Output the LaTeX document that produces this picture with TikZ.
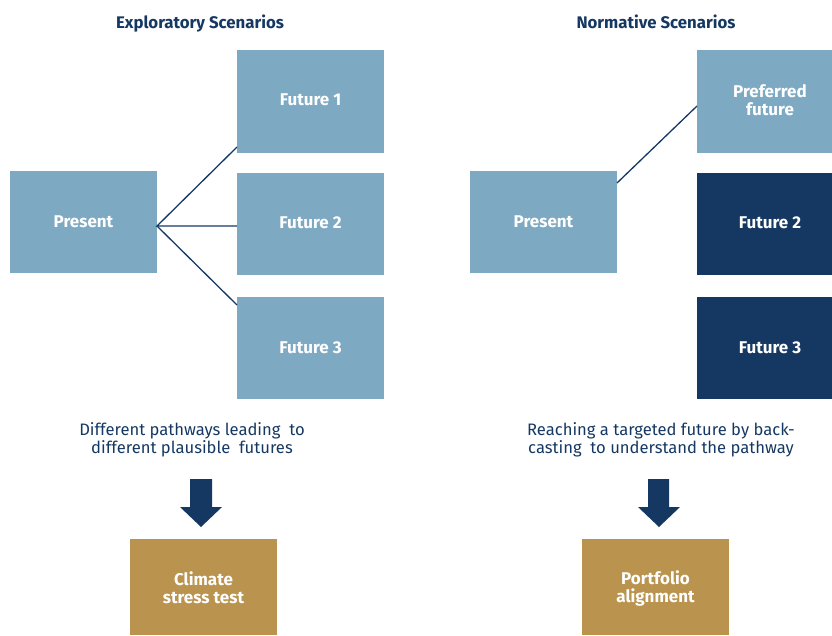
\documentclass[tikz,border=0pt]{standalone}
\usepackage{fontspec}
\setmainfont{Fira Sans}
\definecolor{lightblue}{HTML}{7DA9C3}
\definecolor{navy}{HTML}{153862}
\definecolor{gold}{HTML}{BA944F}
\begin{document}
\begin{tikzpicture}[x=1pt,y=-1pt,
  box/.style={fill=#1,draw=none,text=white,font=\bfseries\fontsize{17}{18}\selectfont,align=center,inner sep=0pt},
  title/.style={text=navy,font=\bfseries\fontsize{16.8}{18}\selectfont,inner sep=0pt,anchor=base},
  desc/.style={text=navy,font=\fontsize{16.6}{18}\selectfont,align=center,inner sep=0pt},
  link/.style={draw=navy,line width=1.3pt},
  bigarrow/.style={fill=navy,draw=none}]
\useasboundingbox (0,0) rectangle (832,635);
% titles
\node[title] (t1) at (200,28) {Exploratory Scenarios};
\node[title] (t2) at (656,28) {Normative Scenarios};
% left boxes
\fill[lightblue] (10,171) rectangle (157,273);
\node[box=lightblue] (p1) at (83.5,222) {Present};
\fill[lightblue] (237,50) rectangle (384,153);
\node[box=lightblue] (f1) at (310.5,100) {Future 1};
\fill[lightblue] (237,173) rectangle (384,275);
\node[box=lightblue] (f2) at (310.5,223) {Future 2};
\fill[lightblue] (237,297) rectangle (384,399);
\node[box=lightblue] (f3) at (310.5,348) {Future 3};
\coordinate (pr) at (157,226);
\coordinate (f1l) at (237,147);
\coordinate (f2l) at (237,226);
\coordinate (f3l) at (237,305);
\draw[link] (f1l) -- (pr) -- (f2l);
\draw[link] (pr) -- (f3l);
% right boxes
\fill[lightblue] (470,171) rectangle (617,273);
\node[box=lightblue] (p2) at (543.5,222) {Present};
\fill[lightblue] (697,50) rectangle (832,153);
\node[box=lightblue] (pf) at (770,100) {Preferred\\future};
\fill[navy] (697,173) rectangle (832,275);
\node[box=navy] (g2) at (770,223) {Future 2};
\fill[navy] (697,297) rectangle (832,399);
\node[box=navy] (g3) at (770,348) {Future 3};
\coordinate (p2r) at (617,183);
\coordinate (pfl) at (697,106);
\draw[link] (p2r) -- (pfl);
% descriptions
\node[desc] (d1) at (192,440) {Different pathways leading\ \ to\\different plausible\ \ futures};
\node[desc] (d2) at (661,440) {Reaching a targeted future by back-\\casting\ \ to understand the pathway};
% arrows
\fill[bigarrow] (190,479) -- (212,479) -- (212,507) -- (222,507) -- (201,527) -- (180,507) -- (190,507) -- cycle;
\fill[bigarrow] (648,479) -- (669,479) -- (669,507) -- (680,507) -- (659,527) -- (638,507) -- (648,507) -- cycle;
% bottom boxes
\fill[gold] (130,539) rectangle (277,635);
\node[box=gold] (c1) at (203.5,588) {Climate\\stress test};
\fill[gold] (582,539) rectangle (729,635);
\node[box=gold] (c2) at (655.5,588) {Portfolio\\alignment};
\end{tikzpicture}
\end{document}
